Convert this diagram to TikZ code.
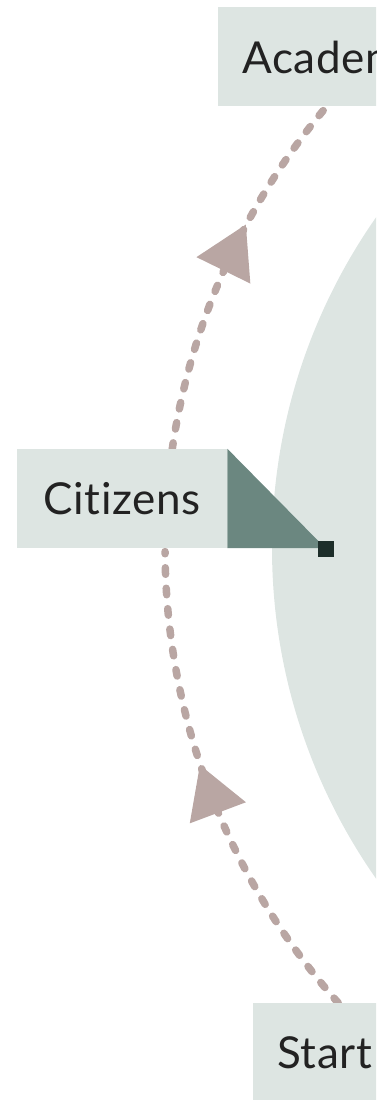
\documentclass[tikz,border=0pt]{standalone}
\usepackage{fontspec}
\setmainfont{Lato}[Ligatures=NoCommon, LetterSpace=1.5]
\usetikzlibrary{positioning, calc, decorations.markings}
\definecolor{boxfill}{HTML}{DDE5E2}
\definecolor{hubfill}{HTML}{DDE5E2}
\definecolor{flowcol}{HTML}{B9A6A3}
\definecolor{tabcol}{HTML}{6B8780}
\definecolor{pincol}{HTML}{1D2E2A}
\definecolor{inkcol}{HTML}{222222}

\begin{document}
\begin{tikzpicture}[x=1pt, y=1pt,
  actor/.style={fill=boxfill, minimum height=99pt, inner xsep=24pt, inner ysep=0pt,
    text=inkcol, font=\fontsize{44}{53}\selectfont},
  flow/.style={draw=flowcol, line width=7.5pt, line cap=round, dash pattern=on 6.5pt off 14pt},
  midarrow/.style={postaction={decorate, decoration={markings,
    mark=at position #1 with {\fill[flowcol] (25pt,0) -- (-26pt,30pt) -- (-26pt,-30pt) -- cycle;}}}}]
\useasboundingbox (0,0) rectangle (376,1100);
\clip (0,0) rectangle (376,1100);

% Hub
\coordinate (hub) at (849,552);
\fill[hubfill] (hub) circle[radius=577pt];

% Flows round the hub
\coordinate (citup) at ($(hub)+(171.7:684pt)$);
\coordinate (citdown) at ($(hub)+(180.3:684pt)$);
\coordinate (acadin) at ($(hub)+(139.9:684pt)$);
\coordinate (startout) at ($(hub)+(221.7:684pt)$);
\draw[flow, midarrow=0.56] (citup) arc[start angle=171.7, end angle=139.9, radius=684pt];
\draw[flow, midarrow=0.51] (startout) arc[start angle=221.7, end angle=180.3, radius=684pt];

% Actors
\node[actor, anchor=west] (acad) at (218,1043) {Academia};
\node[actor, anchor=west, inner xsep=18pt, minimum width=210pt] (cit) at (17,601.5) {Citizens};
\node[actor, anchor=west] (start) at (253,47.5) {Start};

% Tab and pin on Citizens
\fill[tabcol] (cit.north east) -- (cit.south east) -- ($(cit.south east)+(98,0)$) -- cycle;
\fill[pincol] ($(cit.south east)+(91,-8.5)$) rectangle ++(16,16);
\end{tikzpicture}
\end{document}
